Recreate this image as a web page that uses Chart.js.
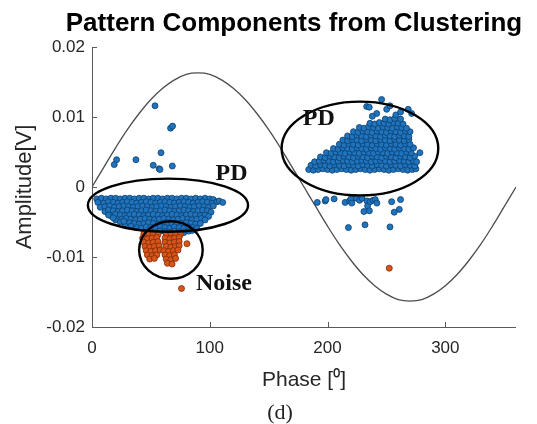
<!DOCTYPE html>
<html>
<head>
<meta charset="utf-8">
<title>Pattern Components from Clustering</title>
<script src="https://cdn.jsdelivr.net/npm/chart.js@4.4.1/dist/chart.umd.min.js"></script>
<style>
  html, body { margin: 0; padding: 0; background: #fff; }
  #wrap { width: 537px; height: 424px; }
</style>
</head>
<body>
<div id="wrap"><canvas id="chart" width="537" height="424"></canvas></div>
<script>
// axis ticks: phase in degrees, amplitude in volts
var phaseTicks = [0, 100, 200, 300];
var ampTicks = [-0.02, -0.01, 0, 0.01, 0.02];

// supply voltage reference, sampled every 10 deg (scaled to the PD amplitude range)
var sinePhase = [0, 10, 20, 30, 40, 50, 60, 70, 80, 90, 100, 110, 120, 130, 140, 150, 160, 170, 180,
                 190, 200, 210, 220, 230, 240, 250, 260, 270, 280, 290, 300, 310, 320, 330, 340, 350, 360];
var sineAmp = [0, 0.0028, 0.0056, 0.0082, 0.0105, 0.0125, 0.0141, 0.0153, 0.0161, 0.0163,
               0.0161, 0.0153, 0.0141, 0.0125, 0.0105, 0.0082, 0.0056, 0.0028, 0,
               -0.0028, -0.0056, -0.0082, -0.0105, -0.0125, -0.0141, -0.0153, -0.0161, -0.0163,
               -0.0161, -0.0153, -0.0141, -0.0125, -0.0105, -0.0082, -0.0056, -0.0028, 0];

// PD cluster, negative half cycle [phase, amplitude]
var pdLow = [
  [4,-0.0017],[8,-0.0016],[12,-0.0017],[16,-0.0016],[20,-0.0016],[24,-0.0017],[28,-0.0016],[32,-0.0016],[36,-0.0017],
  [40,-0.0016],[44,-0.0016],[48,-0.0017],[52,-0.0016],[56,-0.0016],[60,-0.0017],[64,-0.0016],[68,-0.0016],[72,-0.0017],
  [76,-0.0016],[80,-0.0016],[84,-0.0017],[88,-0.0016],[92,-0.0017],[96,-0.0016],[100,-0.0017],[103,-0.0018],
  [5,-0.0022],[10,-0.0023],[14,-0.0021],[18,-0.0022],[22,-0.0023],[26,-0.0022],[30,-0.0021],[34,-0.0022],[38,-0.0023],
  [42,-0.0022],[46,-0.0021],[50,-0.0022],[54,-0.0023],[58,-0.0022],[62,-0.0021],[66,-0.0022],[70,-0.0023],[74,-0.0022],
  [78,-0.0021],[82,-0.0022],[86,-0.0023],[90,-0.0022],[94,-0.0021],[98,-0.0022],[102,-0.0023],[106,-0.0021],
  [7,-0.0029],[11,-0.0028],[15,-0.0027],[19,-0.0029],[23,-0.0028],[27,-0.0027],[31,-0.0028],[35,-0.0029],[39,-0.0028],
  [43,-0.0027],[47,-0.0028],[51,-0.0029],[55,-0.0028],[59,-0.0027],[63,-0.0028],[67,-0.0029],[71,-0.0028],[75,-0.0027],
  [79,-0.0028],[83,-0.0029],[87,-0.0028],[91,-0.0027],[95,-0.0028],[99,-0.0029],[103,-0.0027],
  [11,-0.0035],[14,-0.0033],[18,-0.0034],[22,-0.0035],[26,-0.0034],[30,-0.0033],[34,-0.0034],[38,-0.0035],[42,-0.0034],
  [46,-0.0033],[50,-0.0034],[54,-0.0035],[58,-0.0034],[62,-0.0033],[66,-0.0034],[70,-0.0035],[74,-0.0034],[78,-0.0033],
  [82,-0.0034],[86,-0.0035],[90,-0.0034],[94,-0.0033],[98,-0.0034],[101,-0.0036],
  [16,-0.0041],[20,-0.0039],[24,-0.0040],[28,-0.0041],[32,-0.0040],[36,-0.0039],[40,-0.0040],[44,-0.0041],[48,-0.0040],
  [52,-0.0039],[56,-0.0040],[60,-0.0041],[64,-0.0040],[68,-0.0039],[72,-0.0040],[76,-0.0041],[80,-0.0040],[84,-0.0039],
  [88,-0.0040],[92,-0.0041],[96,-0.0040],[99,-0.0042],
  [20,-0.0047],[25,-0.0046],[29,-0.0045],[33,-0.0046],[37,-0.0047],[41,-0.0046],[45,-0.0045],[49,-0.0046],[53,-0.0047],
  [57,-0.0046],[61,-0.0045],[65,-0.0046],[69,-0.0047],[73,-0.0046],[77,-0.0045],[81,-0.0046],[85,-0.0047],[89,-0.0046],
  [93,-0.0045],[96,-0.0047],
  [28,-0.0053],[32,-0.0051],[36,-0.0052],[40,-0.0053],[44,-0.0052],[48,-0.0051],[52,-0.0052],[56,-0.0053],[60,-0.0052],
  [64,-0.0051],[68,-0.0052],[72,-0.0053],[76,-0.0052],[80,-0.0051],[84,-0.0052],[88,-0.0053],[92,-0.0052],
  [38,-0.0058],[42,-0.0059],[46,-0.0057],[50,-0.0058],[54,-0.0059],[58,-0.0057],[62,-0.0058],[66,-0.0059],[70,-0.0057],
  [74,-0.0058],[78,-0.0059],[82,-0.0057],[86,-0.0058],[89,-0.0059],
  [50,-0.0064],[54,-0.0065],[58,-0.0063],[62,-0.0064],[66,-0.0065],[70,-0.0063],[74,-0.0064],[78,-0.0065],[82,-0.0063],
  [85,-0.0062],
  [14,-0.0040],[18,-0.0044],[24,-0.0050],[27,-0.0049],[33,-0.0056],[108,-0.0020],[111,-0.0022]
];

// PD cluster, positive half cycle
var pdHigh = [
  [184,0.0025],[188,0.0024],[192,0.0025],[196,0.0026],[200,0.0025],[204,0.0024],[208,0.0025],[212,0.0026],[216,0.0025],
  [220,0.0024],[224,0.0025],[228,0.0026],[232,0.0025],[236,0.0024],[240,0.0025],[244,0.0026],[248,0.0025],[252,0.0024],
  [256,0.0025],[260,0.0026],[264,0.0025],[268,0.0024],[272,0.0025],[275,0.0026],
  [186,0.0031],[190,0.0030],[194,0.0032],[198,0.0031],[202,0.0030],[206,0.0032],[210,0.0031],[214,0.0030],[218,0.0032],
  [222,0.0031],[226,0.0030],[230,0.0032],[234,0.0031],[238,0.0030],[242,0.0032],[246,0.0031],[250,0.0030],[254,0.0032],
  [258,0.0031],[262,0.0030],[266,0.0032],[270,0.0031],[274,0.0030],
  [189,0.0036],[193,0.0037],[197,0.0038],[201,0.0037],[205,0.0036],[209,0.0037],[213,0.0038],[217,0.0037],[221,0.0036],
  [225,0.0037],[229,0.0038],[233,0.0037],[237,0.0036],[241,0.0037],[245,0.0038],[249,0.0037],[253,0.0036],[257,0.0037],
  [261,0.0038],[265,0.0037],[269,0.0036],[273,0.0037],
  [194,0.0043],[198,0.0042],[202,0.0044],[206,0.0043],[210,0.0042],[214,0.0044],[218,0.0043],[222,0.0042],[226,0.0044],
  [230,0.0043],[234,0.0042],[238,0.0044],[242,0.0043],[246,0.0042],[250,0.0044],[254,0.0043],[258,0.0042],[262,0.0044],
  [266,0.0043],[270,0.0042],[274,0.0044],
  [199,0.0049],[203,0.0048],[207,0.0050],[211,0.0049],[215,0.0048],[219,0.0050],[223,0.0049],[227,0.0048],[231,0.0050],
  [235,0.0049],[239,0.0048],[243,0.0050],[247,0.0049],[251,0.0048],[255,0.0050],[259,0.0049],[263,0.0048],[267,0.0050],
  [271,0.0049],
  [205,0.0055],[209,0.0054],[213,0.0056],[217,0.0055],[221,0.0054],[225,0.0056],[229,0.0055],[233,0.0054],[237,0.0056],
  [241,0.0055],[245,0.0054],[249,0.0056],[253,0.0055],[257,0.0054],[261,0.0056],[265,0.0055],[269,0.0054],[273,0.0056],
  [210,0.0061],[214,0.0060],[218,0.0062],[222,0.0061],[226,0.0060],[230,0.0062],[234,0.0061],[238,0.0060],[242,0.0062],
  [246,0.0061],[250,0.0060],[254,0.0062],[258,0.0061],[262,0.0060],[266,0.0062],[270,0.0061],
  [213,0.0067],[217,0.0066],[221,0.0068],[225,0.0067],[229,0.0066],[233,0.0068],[237,0.0067],[241,0.0066],[245,0.0068],
  [249,0.0067],[253,0.0066],[257,0.0068],[261,0.0067],[265,0.0066],[269,0.0068],
  [217,0.0073],[221,0.0072],[225,0.0074],[229,0.0073],[233,0.0072],[237,0.0074],[241,0.0073],[245,0.0072],[249,0.0074],
  [253,0.0073],[257,0.0072],[261,0.0074],[265,0.0073],[269,0.0072],
  [222,0.0079],[226,0.0078],[230,0.0080],[234,0.0079],[238,0.0078],[242,0.0080],[246,0.0079],[250,0.0078],[254,0.0080],
  [258,0.0079],[262,0.0078],[266,0.0080],[270,0.0079],
  [227,0.0085],[231,0.0084],[235,0.0086],[239,0.0085],[243,0.0084],[247,0.0086],[251,0.0085],[255,0.0084],[259,0.0086],
  [263,0.0085],[267,0.0084],
  [236,0.0091],[240,0.0090],[244,0.0092],[248,0.0091],[252,0.0090],[256,0.0092],[260,0.0091],[264,0.0090],
  [249,0.0097],[253,0.0096],[257,0.0098],[262,0.0097],
  [245.9,0.0125],[233.2,0.0115],[235.4,0.0114],[250.2,0.0111],[241.7,0.0105],[253,0.0116],[268.5,0.0111],
  [271.4,0.0105],[238,0.0101],[258,0.0103],[262,0.0107],[278.4,0.0049],[275.6,0.0036]
];

// isolated PD pulses
var pdStray = [
  [53.5,0.0116],[66.7,0.0084],[68.4,0.0087],[58.6,0.0049],[20.9,0.0039],[18.9,0.0032],[37.3,0.0039],
  [52,0.0031],[57,0.0026],[57.7,0.0025],[68.2,0.0030],
  [191.3,-0.0022],[198,-0.0020],[198.6,-0.0018],[205.6,-0.0017],[214.9,-0.0022],[218.6,-0.0020],[219.8,-0.0017],
  [220.6,-0.0023],[224.4,-0.0016],[227.2,-0.0019],[229.3,-0.0016],[233.5,-0.0020],[234,-0.0027],[236.3,-0.0021],
  [238.6,-0.0019],[240.5,-0.0018],[241.9,-0.0023],[230.9,-0.0035],[235.5,-0.0034],[254.4,-0.0021],[262,-0.0018],
  [260.9,-0.0032],[256.6,-0.0036],[217.7,-0.0058],[231.8,-0.0054],[253,-0.0057]
];

// noise cluster
var noise = [
  [44,-0.0067],[48,-0.0066],[52,-0.0067],[56,-0.0068],[63,-0.0067],[67,-0.0066],[71,-0.0067],[75,-0.0068],
  [43,-0.0073],[47,-0.0074],[51,-0.0073],[55,-0.0072],[62,-0.0073],[66,-0.0074],[70,-0.0073],[74,-0.0072],
  [44,-0.0079],[48,-0.0080],[52,-0.0079],[56,-0.0078],[62,-0.0079],[66,-0.0080],[70,-0.0079],[74,-0.0078],
  [45,-0.0085],[49,-0.0086],[53,-0.0085],[57,-0.0084],[63,-0.0085],[67,-0.0086],[71,-0.0085],[74,-0.0084],
  [46,-0.0091],[50,-0.0092],[54,-0.0091],[58,-0.0090],[61,-0.0091],[65,-0.0092],[69,-0.0091],[73,-0.0090],
  [47,-0.0097],[51,-0.0098],[55,-0.0097],[62,-0.0097],[66,-0.0098],[70,-0.0097],
  [49,-0.0103],[53,-0.0102],[63,-0.0103],[67,-0.0104],[71,-0.0102],
  [64,-0.0109],[68,-0.0110],
  [80.6,-0.0081],[76,-0.0145],[252.4,-0.0116]
];

// hand-drawn cluster rings and their labels, in phase / amplitude units
var rings = [
  { cx: 64.5, cy: -0.0026, rx: 68, ry: 0.0038 },
  { cx: 67, cy: -0.0090, rx: 27, ry: 0.0041 },
  { cx: 227.5, cy: 0.0055, rx: 66.5, ry: 0.0067 }
];
var tags = [
  { text: 'PD', x: 118.5, y: 0.0019 },
  { text: 'PD', x: 192.5, y: 0.0097 },
  { text: 'Noise', x: 112, y: -0.0138 }
];

function toXY(list) {
  return list.map(function (p) { return { x: p[0], y: p[1] }; });
}

var SANS = '"Liberation Sans", Arial, sans-serif';
var SERIF = '"Liberation Serif", "Times New Roman", serif';
var INK = '#262626';
var AXIS = '#5a5a5a';

var decor = {
  id: 'decor',
  beforeDatasetsDraw: function (chart) {
    var ctx = chart.ctx, a = chart.chartArea;
    var xs = chart.scales.x, ys = chart.scales.y;
    ctx.save();
    ctx.strokeStyle = AXIS;
    ctx.lineWidth = 1;
    ctx.beginPath();
    ctx.moveTo(a.left + 0.5, a.top);
    ctx.lineTo(a.left + 0.5, a.bottom + 0.5);
    ctx.lineTo(a.right, a.bottom + 0.5);
    // ticks point into the plot
    phaseTicks.forEach(function (v) {
      var px = Math.round(xs.getPixelForValue(v)) + 0.5;
      ctx.moveTo(px, a.bottom);
      ctx.lineTo(px, a.bottom - 5);
    });
    ampTicks.forEach(function (v) {
      var py = Math.round(ys.getPixelForValue(v)) + 0.5;
      ctx.moveTo(a.left, py);
      ctx.lineTo(a.left + 5, py);
    });
    ctx.stroke();
    ctx.restore();
  },
  afterDatasetsDraw: function (chart) {
    var ctx = chart.ctx;
    var xs = chart.scales.x, ys = chart.scales.y;
    ctx.save();
    ctx.strokeStyle = '#000';
    ctx.lineWidth = 2.4;
    rings.forEach(function (r) {
      var cx = xs.getPixelForValue(r.cx), cy = ys.getPixelForValue(r.cy);
      var rx = xs.getPixelForValue(r.cx + r.rx) - cx;
      var ry = cy - ys.getPixelForValue(r.cy + r.ry);
      ctx.beginPath();
      ctx.ellipse(cx, cy, rx, ry, 0, 0, Math.PI * 2);
      ctx.stroke();
    });
    ctx.fillStyle = '#111';
    ctx.font = 'bold 24px ' + SERIF;
    ctx.textAlign = 'center';
    ctx.textBaseline = 'middle';
    tags.forEach(function (t) {
      ctx.fillText(t.text, xs.getPixelForValue(t.x), ys.getPixelForValue(t.y));
    });
    ctx.restore();
  },
  afterDraw: function (chart) {
    var ctx = chart.ctx;
    ctx.save();
    ctx.fillStyle = '#000';
    ctx.textAlign = 'center';
    ctx.textBaseline = 'middle';
    ctx.font = 'bold 26px ' + SANS;
    ctx.fillText('Pattern Components from Clustering', 294, 24);
    ctx.textBaseline = 'alphabetic';
    ctx.font = '22px ' + SERIF;
    ctx.fillStyle = '#222';
    ctx.fillText('(d)', 280, 419);
    ctx.restore();
  }
};

var blueDot = { bg: '#1f74bd', edge: '#0c3f6e' };
var orangeDot = { bg: '#d85418', edge: '#7d2c0a' };

var config = {
  type: 'scatter',
  data: {
    datasets: [{
      label: 'Noise',
      data: toXY(noise),
      backgroundColor: orangeDot.bg,
      borderColor: orangeDot.edge,
      borderWidth: 0.8,
      pointRadius: 3,
      order: 1
    }, {
      label: 'PD',
      data: toXY(pdLow.concat(pdHigh, pdStray)),
      backgroundColor: blueDot.bg,
      borderColor: blueDot.edge,
      borderWidth: 0.8,
      pointRadius: 3,
      order: 2
    }, {
      label: 'Voltage',
      data: sinePhase.map(function (p, i) { return { x: p, y: sineAmp[i] }; }),
      showLine: true,
      pointRadius: 0,
      borderColor: '#4d4d4d',
      borderWidth: 1.3,
      tension: 0.4,
      fill: false,
      order: 3
    }]
  },
  options: {
    responsive: false,
    animation: false,
    events: [],
    layout: { padding: { top: 47, right: 21, bottom: 0, left: 0 } },
    plugins: {
      legend: { display: false },
      tooltip: { enabled: false },
      title: { display: false }
    },
    scales: {
      x: {
        type: 'linear',
        min: 0,
        max: 360,
        afterBuildTicks: function (s) { s.ticks = phaseTicks.map(function (v) { return { value: v }; }); },
        afterFit: function (s) { s.height = 97; },
        grid: { display: false, drawTicks: false },
        border: { display: false },
        ticks: {
          color: INK,
          padding: 11,
          maxRotation: 0,
          font: { family: SANS, size: 17 }
        },
        title: {
          display: true,
          text: 'Phase [⁰]',
          color: INK,
          font: { family: SANS, size: 21 },
          padding: { top: 0, bottom: 31 }
        }
      },
      y: {
        type: 'linear',
        min: -0.02,
        max: 0.02,
        afterBuildTicks: function (s) { s.ticks = ampTicks.map(function (v) { return { value: v }; }); },
        afterFit: function (s) { s.width = 92; },
        grid: { display: false, drawTicks: false },
        border: { display: false },
        ticks: {
          color: INK,
          padding: 7,
          font: { family: SANS, size: 17 },
          callback: function (v) { return v === 0 ? '0' : v.toFixed(2); }
        },
        title: {
          display: true,
          text: 'Amplitude[V]',
          color: INK,
          font: { family: SANS, size: 22 },
          padding: { top: 12, bottom: 0 }
        }
      }
    }
  },
  plugins: [decor]
};

window.onload = function () {
  var ctx = document.getElementById('chart').getContext('2d');
  window.patternChart = new Chart(ctx, config);
};
</script>
</body>
</html>
